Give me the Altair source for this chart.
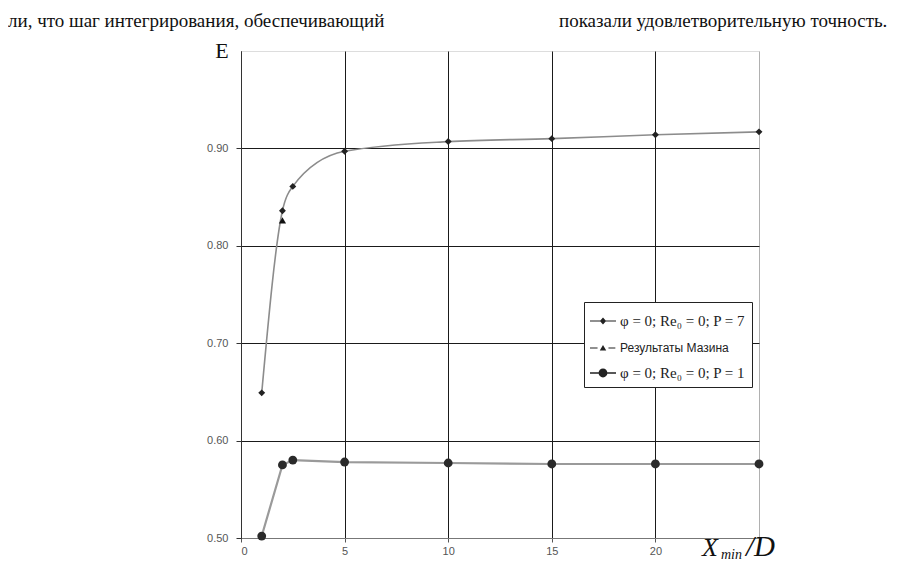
import altair as alt
import pandas as pd

# ---- data ----
x_p7 = [1, 2, 2.5, 5, 10, 15, 20, 25]
e_p7 = [0.649, 0.836, 0.861, 0.897, 0.907, 0.910, 0.914, 0.917]
x_mazin = [2]
e_mazin = [0.826]
x_p1 = [1, 2, 2.5, 5, 10, 15, 20, 25]
e_p1 = [0.502, 0.575, 0.580, 0.578, 0.577, 0.576, 0.576, 0.576]

series_names = ["φ = 0; Re₀ = 0; P = 7", "Результаты Мазина", "φ = 0; Re₀ = 0; P = 1"]
x_ticks = [0, 5, 10, 15, 20, 25]
y_ticks = [0.5, 0.6, 0.7, 0.8, 0.9]
text_left = "ли, что шаг интегрирования, обеспечивающий"
text_right = "показали удовлетворительную точность."

df7 = pd.DataFrame({"x": x_p7, "e": e_p7, "s": series_names[0]})
dfm = pd.DataFrame({"x": x_mazin, "e": e_mazin, "s": series_names[1]})
df1 = pd.DataFrame({"x": x_p1, "e": e_p1, "s": series_names[2]})
dfall = pd.concat([df7, dfm, df1])

xscale = alt.Scale(domain=[0, 25], nice=False, zero=False)
yscale = alt.Scale(domain=[0.5, 1.0], nice=False, zero=False)

X = alt.X("x:Q", scale=xscale, title=None,
          axis=alt.Axis(values=x_ticks, labelExpr="datum.value == 25 ? '' : datum.label",
                        grid=True,
                        gridColor=alt.condition("datum.value >= 25", alt.value("#b0b0b0"), alt.value("#1a1a1a")),
                        gridWidth=1, domainColor="#777", tickColor="#555", tickSize=4,
                        labelFont="Liberation Sans", labelFontSize=11, labelColor="#555",
                        labelPadding=3))
Y = alt.Y("e:Q", scale=yscale, title=None,
          axis=alt.Axis(values=y_ticks, format=".2f", grid=True, gridColor="#1a1a1a", gridWidth=1,
                        domainColor="#333", tickColor="#333", tickSize=5,
                        labelFont="Liberation Sans", labelFontSize=11, labelColor="#555",
                        labelPadding=8))

line7 = alt.Chart(df7).mark_line(interpolate="monotone", color="#8c8c8c", strokeWidth=1.6).encode(x=X, y=Y)
line1 = alt.Chart(df1).mark_line(color="#9a9a9a", strokeWidth=2.2).encode(x=X, y=Y)
pts7 = alt.Chart(df7).mark_point(shape="diamond", filled=True, size=48, color="#222", opacity=1).encode(x=X, y=Y)
ptsm = alt.Chart(dfm).mark_point(shape="triangle-up", filled=True, size=52, color="#111", opacity=1).encode(x=X, y=Y)
pts1 = alt.Chart(df1).mark_point(shape="circle", filled=True, size=78, color="#2a2a2a", opacity=1).encode(x=X, y=Y)

# legend symbols: thin filled bar (the line) plus the marker
legend_paths = [
    "M-1,-0.045L1,-0.045L1,0.045L-1,0.045Z M0,-0.27L0.24,0L0,0.27L-0.24,0Z",
    "M-1,-0.04L-0.42,-0.04L-0.42,0.04L-1,0.04Z M0.42,-0.04L0.95,-0.04L0.95,0.04L0.42,0.04Z M0,-0.24L0.25,0.2L-0.25,0.2Z",
    "M-1,-0.05L1,-0.05L1,0.05L-1,0.05Z M-0.34,0A0.34,0.34 0 1,1 0.34,0A0.34,0.34 0 1,1 -0.34,0Z",
]
legend_layer = alt.Chart(dfall).transform_filter("false").mark_point(
    filled=True, size=676, color="#222", opacity=1
).encode(
    shape=alt.Shape("s:N", scale=alt.Scale(domain=series_names, range=legend_paths),
                    sort=series_names,
                    legend=alt.Legend(title=None, orient="none", legendX=343, legendY=251,
                                      strokeColor="#222", fillColor="white", padding=6,
                                      rowPadding=6, labelOffset=4,
                                      symbolSize=676, symbolFillColor="#222",
                                      symbolStrokeWidth=0, symbolOpacity=1,
                                      labelFont={"expr": "datum.label == 'Результаты Мазина' ? 'Liberation Sans' : 'Liberation Serif'"},
                                      labelFontSize={"expr": "datum.label == 'Результаты Мазина' ? 12 : 15"},
                                      labelColor="#222", labelLimit=300))
)

t_left = alt.Chart(pd.DataFrame({"t": [text_left]})).mark_text(
    align="left", baseline="alphabetic", font="Liberation Serif", fontSize=19, color="#111"
).encode(text="t:N", x=alt.value(-233), y=alt.value(-24))
t_right = alt.Chart(pd.DataFrame({"t": [text_right]})).mark_text(
    align="left", baseline="alphabetic", font="Liberation Serif", fontSize=19, color="#111"
).encode(text="t:N", x=alt.value(318), y=alt.value(-24))
e_lab = alt.Chart(pd.DataFrame({"t": ["E"]})).mark_text(
    align="center", baseline="alphabetic", font="Liberation Serif", fontSize=22, color="#111"
).encode(text="t:N", x=alt.value(-19), y=alt.value(7))
xl1 = alt.Chart(pd.DataFrame({"t": ["X"]})).mark_text(
    align="left", baseline="alphabetic", font="Liberation Serif", fontStyle="italic", fontSize=26, color="#111"
).encode(text="t:N", x=alt.value(461), y=alt.value(505))
xl2 = alt.Chart(pd.DataFrame({"t": ["min"]})).mark_text(
    align="left", baseline="alphabetic", font="Liberation Serif", fontStyle="italic", fontSize=14, color="#111"
).encode(text="t:N", x=alt.value(480), y=alt.value(508))
xl3 = alt.Chart(pd.DataFrame({"t": ["/D"]})).mark_text(
    align="left", baseline="alphabetic", font="Liberation Serif", fontStyle="italic", fontSize=29, color="#111"
).encode(text="t:N", x=alt.value(505), y=alt.value(505))

chart = alt.layer(
    line7, line1, pts7, ptsm, pts1, legend_layer, t_left, t_right, e_lab, xl1, xl2, xl3
).properties(
    width=518, height=487,
    autosize=alt.AutoSizeParams(type="none"),
    padding={"left": 233, "top": 43, "right": 136, "bottom": 24},
).configure_view(stroke="#b0b0b0", strokeWidth=1).configure(background="white")

chart.save("out.html", embed_options={"renderer": "svg", "actions": False})
